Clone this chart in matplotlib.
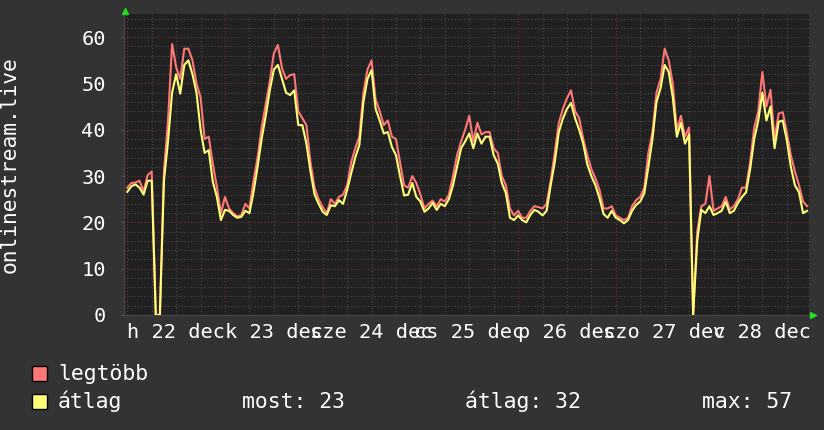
import numpy as np
import matplotlib
matplotlib.use("Agg")
import matplotlib.pyplot as plt

plt.rcParams['font.family'] = ['DejaVu Sans Mono']

# hourly samples, 22 dec 00:00 .. 28 dec 23:00
hours = np.arange(168)
avg_vals = [26.6, 27.8, 28.2, 27.5, 26.0, 29.0, 29.0, 0, 0, 29.0,
            37.5, 48.0, 52.0, 47.8, 54.0, 55.0, 52.0, 48.0, 40.0, 35.0,
            35.6, 28.8, 25.5, 20.5, 22.7, 22.5, 21.6, 21.0, 21.2, 22.5,
            22.0, 26.5, 32.0, 38.0, 43.0, 48.5, 53.0, 54.0, 51.0, 48.0,
            47.5, 48.5, 41.0, 41.0, 37.0, 31.0, 26.0, 24.0, 22.3, 21.6,
            23.7, 23.5, 24.8, 24.0, 27.0, 30.6, 34.0, 36.7, 46.0, 51.0,
            52.9, 44.5, 42.0, 39.2, 39.5, 36.3, 34.5, 30.0, 25.8, 26.0,
            28.5, 25.5, 24.5, 22.3, 23.0, 24.2, 22.7, 24.0, 23.5, 25.0,
            28.0, 32.0, 36.0, 37.5, 39.2, 36.0, 39.2, 37.0, 38.5, 38.5,
            34.5, 32.7, 28.5, 26.3, 21.0, 20.5, 21.5, 20.5, 20.0, 21.6,
            22.7, 22.3, 21.5, 22.5, 28.0, 33.0, 39.5, 42.4, 44.5, 45.8,
            42.5, 40.0, 37.0, 32.5, 30.0, 28.0, 25.2, 21.8, 21.0, 22.5,
            21.0, 20.5, 19.8, 20.5, 22.5, 23.8, 24.5, 26.3, 32.0, 38.0,
            46.0, 49.0, 54.0, 52.5, 47.0, 38.5, 41.5, 37.0, 39.0, 0,
            16.0, 22.7, 22.0, 23.5, 21.6, 22.0, 22.5, 24.5, 22.0, 22.5,
            24.2, 25.5, 26.5, 31.5, 38.0, 42.0, 48.0, 42.0, 45.0, 36.0,
            41.7, 42.0, 37.8, 32.0, 28.0, 26.5, 22.0, 22.5]
max_vals = [27.5, 28.5, 28.6, 29.0, 26.7, 30.2, 31.0, 0, 0, 31.0,
            42.0, 58.5, 53.5, 51.0, 57.5, 57.5, 55.0, 50.0, 47.0, 38.0,
            38.5, 32.7, 27.7, 22.0, 25.5, 23.0, 22.0, 21.3, 21.6, 24.0,
            23.0, 29.0, 34.0, 40.5, 45.5, 50.5, 56.5, 58.3, 53.3, 51.0,
            51.8, 52.0, 44.0, 42.5, 41.0, 33.0, 27.5, 25.0, 23.3, 22.0,
            25.0, 24.0, 25.5, 26.0, 28.0, 33.0, 36.0, 38.5, 48.0, 53.0,
            55.0, 46.5, 44.0, 41.0, 42.0, 38.5, 38.0, 33.0, 28.0, 27.5,
            30.0, 28.5, 26.0, 23.0, 24.0, 24.7, 23.5, 25.0, 24.5, 26.0,
            30.0, 34.5, 37.5, 40.0, 43.0, 37.5, 41.5, 39.0, 39.5, 39.5,
            36.0, 35.0, 30.0, 28.0, 23.0, 21.5, 22.5, 21.0, 21.0, 22.5,
            23.5, 23.3, 23.0, 24.0, 29.0, 35.0, 41.5, 44.5, 46.8, 48.5,
            44.0, 42.5, 38.0, 34.5, 31.5, 29.5, 27.0, 23.0, 23.0, 23.5,
            21.5, 21.0, 20.5, 21.0, 23.5, 24.8, 25.5, 27.5, 35.0, 39.5,
            48.0, 51.0, 57.5, 55.0, 50.0, 40.0, 43.0, 38.5, 40.5, 0,
            18.0, 23.5, 24.0, 30.0, 22.5, 23.0, 23.5, 25.5, 22.8, 23.5,
            25.0, 27.5, 27.5, 33.0, 40.5, 44.0, 52.5, 45.0, 48.6, 38.0,
            43.5, 43.8, 39.5, 34.5, 31.0, 28.0, 24.5, 23.5]

day_labels = ["h 22 dec", "k 23 dec", "sze 24 dec", "cs 25 dec",
              "p 26 dec", "szo 27 dec", "v 28 dec"]
y_ticks = [0, 10, 20, 30, 40, 50, 60]
series_names = ["legtöbb", "átlag"]
stats_text = ["most: 23", "átlag: 32", "max: 57"]

bg = '#333333'
plot_bg = '#212121'
red = '#ff7777'
yellow = '#ffff77'

W, H = 824, 430
fig = plt.figure(figsize=(W / 100, H / 100), dpi=100, facecolor=bg)
ax = fig.add_axes([124 / W, 1 - 315 / H, (809 - 124) / W, (315 - 14) / H])
ax.set_facecolor(plot_bg)

px_per_h = 97.7 / 24
ax.set_xlim((124 - 127.3) / px_per_h, (809 - 127.3) / px_per_h)
ax.set_ylim(0, 65)

# grid like rrdtool: dotted minor gray, dotted major red
for v in range(2, 66, 2):
    c = '#6e3434' if v % 10 == 0 else '#4a4a4a'
    ax.axhline(v, color=c, lw=0.8, ls=(0, (1, 2)), zorder=1)
for hh in range(0, 169, 6):
    c = '#6e3434' if hh % 24 == 0 else '#4a4a4a'
    ax.axvline(hh, color=c, lw=0.8, ls=(0, (1, 2)), zorder=1)

ax.plot(hours, max_vals, color=red, lw=1.5, zorder=3)
ax.plot(hours, avg_vals, color=yellow, lw=1.5, zorder=4)

ax.set_yticks(y_ticks)
ax.set_yticklabels([str(t) for t in y_ticks])
ax.set_xticks([12 + 24 * i for i in range(len(day_labels))])
ax.set_xticklabels(day_labels)
ax.tick_params(axis='y', colors='white', labelsize=14.6, length=2, pad=11)
ax.tick_params(axis='x', colors='white', labelsize=14.6, length=0, pad=6)
ax.tick_params(axis='y', color='#555555')

for s in ['top', 'right']:
    ax.spines[s].set_visible(False)
for s in ['bottom', 'left']:
    ax.spines[s].set_color('#444444')
    ax.spines[s].set_linewidth(1)

ax.set_ylabel("onlinestream.live", color='white', fontsize=15.3, labelpad=0)
ax.yaxis.set_label_coords(-104 / (809 - 124), 0.5)

# green arrows at axis ends
fig.lines.append(plt.Line2D([124.8 / W], [1 - 10.8 / H], marker='^', color='#22dd22',
                            markersize=5, transform=fig.transFigure))
fig.lines.append(plt.Line2D([813 / W], [1 - 314.5 / H], marker='>', color='#22dd22',
                            markersize=5, transform=fig.transFigure))

# legend
for i, (name, col) in enumerate(zip(series_names, [red, yellow])):
    yc = 373.5 + i * 28
    fig.patches.append(plt.Rectangle((32 / W, 1 - (yc + 7.5) / H), 15 / W, 15 / H,
                                     facecolor=col, edgecolor='black', lw=1,
                                     transform=fig.transFigure))
    fig.text(58 / W, 1 - yc / H, name, color='white', fontsize=15.4, va='center')

for x0, txt in zip([242, 465, 702], stats_text):
    fig.text(x0 / W, 1 - 401.5 / H, txt, color='white', fontsize=15.4, va='center')

fig.savefig("out.png", dpi=100, facecolor=bg)
